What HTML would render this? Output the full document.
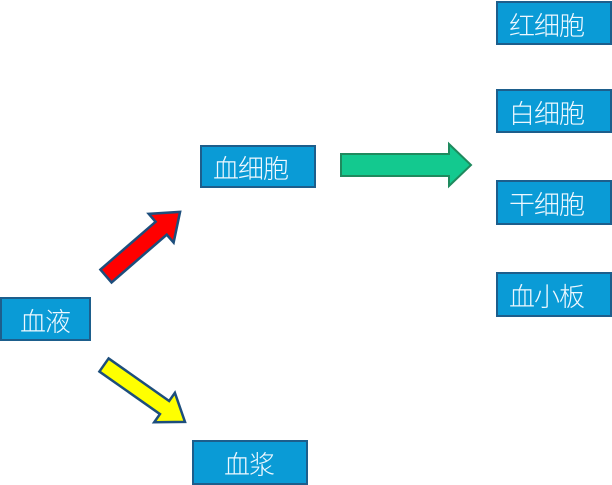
<!DOCTYPE html>
<html><head><meta charset="utf-8"><style>
body{margin:0;width:612px;height:485px;background:#fff;position:relative;overflow:hidden;font-family:"Liberation Sans","Noto Sans CJK SC",sans-serif}
.b{position:absolute;box-sizing:border-box;background:#0a9bd6;border:2.5px solid #1d5e8c;color:#eef8ff;font-size:26px;font-weight:300;display:flex;align-items:center;padding-left:11px;padding-top:2px;white-space:nowrap;letter-spacing:-1px}
svg{position:absolute;left:0;top:0}
</style></head><body>
<div class="b" style="left:200px;top:145px;width:116px;height:43px">血细胞</div>
<div class="b" style="left:0;top:297px;width:91px;height:44px;padding-left:18px">血液</div>
<div class="b" style="left:192px;top:440px;width:116px;height:45px;padding-left:30px">血浆</div>
<div class="b" style="left:496px;top:1px;width:116px;height:44px">红细胞</div>
<div class="b" style="left:496px;top:89px;width:116px;height:44px">白细胞</div>
<div class="b" style="left:496px;top:180px;width:116px;height:45px">干细胞</div>
<div class="b" style="left:496px;top:272px;width:116px;height:45px">血小板</div>
<svg width="612" height="485">
<polygon points="341,154 449,154 449,144 471,165 449,186 449,176 341,176" fill="#13c98f" stroke="#1f8a5e" stroke-width="2"/>
<g transform="translate(106,276) rotate(-40.9)">
<polygon points="0,-8.5 73,-8.5 73,-19 98,0 73,19 73,8.5 0,8.5" fill="#f00" stroke="#1d4e7c" stroke-width="2.5"/>
</g>
<g transform="translate(104,365) rotate(35.1)">
<polygon points="0,-8 74,-8 74,-18 99,0 74,18 74,8 0,8" fill="#ff0" stroke="#1d4e7c" stroke-width="2.5"/>
</g>
</svg>
</body></html>
